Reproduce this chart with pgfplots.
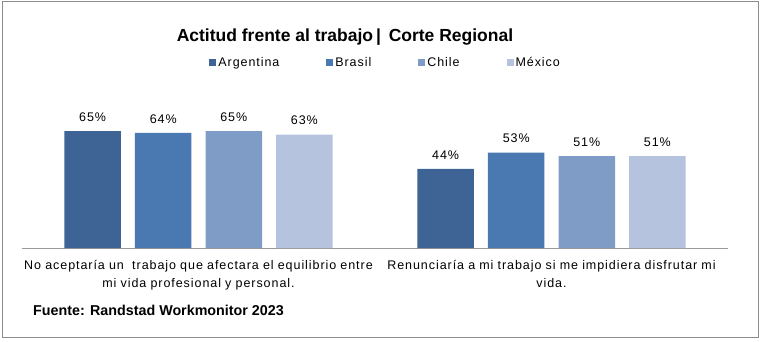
\documentclass[border=0pt]{standalone}
\usepackage{pgfplots}
\pgfplotsset{compat=1.18}
\usepackage{fontspec}
\setmainfont{Liberation Sans}
\newfontfamily\ls[LetterSpace=7.5]{Liberation Sans}
\definecolor{cA}{RGB}{61,100,148}
\definecolor{cB}{RGB}{74,120,176}
\definecolor{cC}{RGB}{127,156,199}
\definecolor{cD}{RGB}{181,195,222}
\begin{document}
\begin{tikzpicture}
\path[use as bounding box] (0,0) rectangle (764bp,342bp);
\draw[black!45, line width=1bp] (2bp,4bp) rectangle (758bp,340bp);
\begin{axis}[at={(22bp,94bp)}, anchor=south west, scale only axis,
  width=706bp, height=144bp,
  ybar, bar width=0.16,
  xmin=-0.5, xmax=1.5, ymin=0, ymax=80,
  axis x line*=bottom, axis y line=none,
  xtick={0,1}, major tick length=0pt,
  /pgf/number format/assume math mode=true,
  xticklabels={{No aceptaría un\ \ trabajo que afectara el equilibrio entre\\mi vida profesional y personal.},{Renunciaría a mi trabajo si me impidiera disfrutar mi\\vida.}},
  x axis line style={black!40, -},
  xticklabel style={font=\ls\fontsize{12.5bp}{18bp}\selectfont, align=center, text width=400bp, yshift=-9bp},
  nodes near coords={\pgfmathprintnumber{\pgfplotspointmeta}\%},
  every node near coord/.append style={font=\ls\fontsize{12.5bp}{14bp}\selectfont, black, yshift=6bp},
  legend columns=4,
  legend style={draw=none, at={(0.515,1.285)}, anchor=center, font=\ls\fontsize{12.5bp}{14bp}\selectfont,
    /tikz/every even column/.style={column sep=45bp}, inner sep=0pt},
  legend image code/.code={\fill[#1] (0bp,-3.5bp) rectangle (7bp,3.5bp);},
]
\addplot[fill=cA, draw=none, bar shift=-0.3] coordinates {(0,65) (1,44)};
\addplot[fill=cB, draw=none, bar shift=-0.1] coordinates {(0,64) (1,53)};
\addplot[fill=cC, draw=none, bar shift=0.1] coordinates {(0,65) (1,51)};
\addplot[fill=cD, draw=none, bar shift=0.3] coordinates {(0,63) (1,51)};
\legend{Argentina, Brasil, Chile, México}
\end{axis}
\node[font=\bfseries\fontsize{17.5bp}{20bp}\selectfont] at (345bp,305bp) {Actitud frente al trabajo\,|\, Corte Regional};
\node[font=\bfseries\fontsize{14.3bp}{16bp}\selectfont, anchor=west, inner sep=0pt] at (33bp,32bp) {Fuente: Randstad Workmonitor 2023};
\end{tikzpicture}
\end{document}
